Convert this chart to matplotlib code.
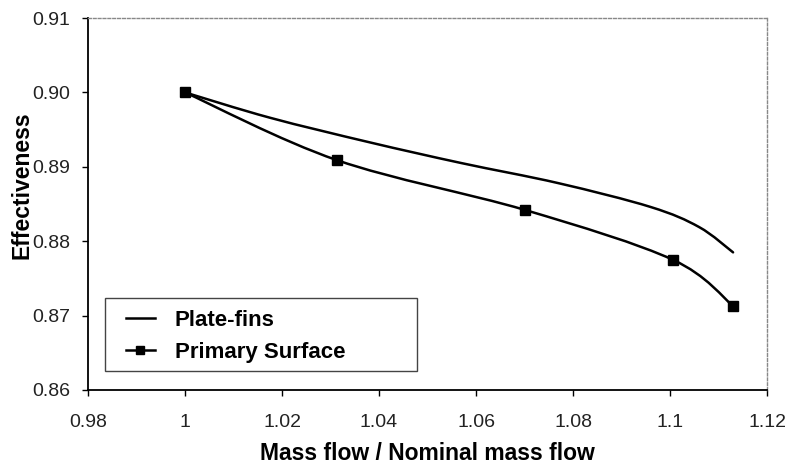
import matplotlib
matplotlib.use("Agg")
import matplotlib.pyplot as plt
import numpy as np
from matplotlib.path import Path
from matplotlib.patches import PathPatch, Rectangle
from matplotlib.lines import Line2D

plt.rcParams['font.family'] = ['Liberation Sans', 'DejaVu Sans']

# Data
plate_x = [1.0, 1.0175, 1.038, 1.057, 1.077, 1.096, 1.106, 1.113]
plate_y = [0.900, 0.8966, 0.8933, 0.8905, 0.8878, 0.8846, 0.8819, 0.8785]

prim_x = [1.0, 1.0313, 1.0701, 1.1006, 1.113]
prim_y = [0.900, 0.8909, 0.8842, 0.8775, 0.8713]

x_ticks = [0.98, 1.0, 1.02, 1.04, 1.06, 1.08, 1.10, 1.12]
x_tick_labels = ['0.98', '1', '1.02', '1.04', '1.06', '1.08', '1.1', '1.12']
y_ticks = [0.86, 0.87, 0.88, 0.89, 0.90, 0.91]
y_tick_labels = ['0.86', '0.87', '0.88', '0.89', '0.90', '0.91']
series_names = ['Plate-fins', 'Primary Surface']


def smooth_path(ax, xs, ys):
    """Excel-style smoothed line (Catmull-Rom Bezier), computed in display space."""
    pts = ax.transData.transform(np.column_stack([xs, ys]))
    n = len(pts)
    verts = [pts[0]]
    codes = [Path.MOVETO]
    for i in range(n - 1):
        p0 = pts[i - 1] if i > 0 else pts[i]
        p1 = pts[i]
        p2 = pts[i + 1]
        p3 = pts[i + 2] if i + 2 < n else pts[i + 1]
        c1 = p1 + (p2 - p0) / 6.0
        c2 = p2 - (p3 - p1) / 6.0
        verts += [c1, c2, p2]
        codes += [Path.CURVE4] * 3
    return Path(verts, codes)


fig = plt.figure(figsize=(7.9, 4.68), dpi=100)
ax = fig.add_axes([0.1114, 0.1667, 0.8595, 0.7948])
ax.set_xlim(0.98, 1.12)
ax.set_ylim(0.86, 0.91)

for xs, ys in [(plate_x, plate_y), (prim_x, prim_y)]:
    path = smooth_path(ax, xs, ys)
    patch = PathPatch(path, facecolor='none', edgecolor='black', lw=1.8,
                      transform=None, capstyle='round', joinstyle='round')
    ax.add_artist(patch)
    patch.set_clip_path(ax.patch)

ax.plot(prim_x, prim_y, linestyle='none', marker='s', color='black',
        markersize=7)

ax.set_xticks(x_ticks)
ax.set_xticklabels(x_tick_labels)
ax.set_yticks(y_ticks)
ax.set_yticklabels(y_tick_labels)
ax.tick_params(direction='out', length=4, width=1, labelsize=14,
               colors='black', labelcolor='#222222')
ax.tick_params(axis='x', pad=13)
ax.tick_params(axis='y', pad=9)

for s in ['left', 'bottom']:
    ax.spines[s].set_linewidth(1.3)
    ax.spines[s].set_color('black')
for s in ['top', 'right']:
    ax.spines[s].set_linewidth(1.0)
    ax.spines[s].set_color('#888888')
    ax.spines[s].set_linestyle((0, (2, 1.5)))

ax.set_xlabel('Mass flow / Nominal mass flow', fontsize=16.5,
              fontweight='bold', labelpad=8)
ax.set_ylabel('Effectiveness', fontsize=16.5, fontweight='bold')
ax.yaxis.set_label_coords(-0.081, 0.551)

# legend frame
frame = Rectangle((0.025, 0.051), 0.46, 0.196, transform=ax.transAxes,
                  facecolor='white', edgecolor='#444444', lw=1.0, zorder=4)
ax.add_patch(frame)

handles = [Line2D([], [], color='black', lw=1.8),
           Line2D([], [], color='black', lw=1.8, marker='s', markersize=6)]
leg = ax.legend(handles, series_names,
                loc='center left', bbox_to_anchor=(0.056, 0.1438),
                borderaxespad=0, borderpad=0, frameon=False,
                handlelength=1.3, handletextpad=0.9, labelspacing=0.48,
                prop={'weight': 'bold', 'size': 16})
leg.set_zorder(5)

fig.savefig('out.png', dpi=100, facecolor='white')
